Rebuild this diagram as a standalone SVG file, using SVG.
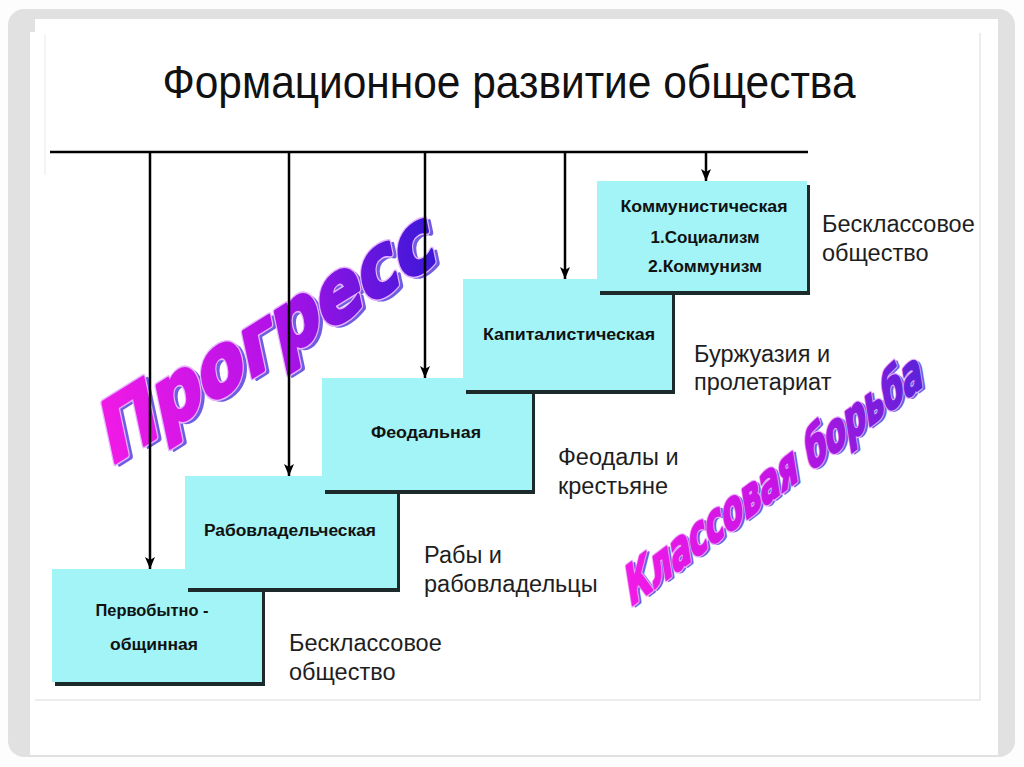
<svg xmlns="http://www.w3.org/2000/svg" width="1024" height="767" viewBox="0 0 1024 767">
<defs>
<style>
.box{fill:#a2f4f6}
.shd{fill:#1c2a2b}
.bt{font-family:"Liberation Sans",Arial,sans-serif;font-weight:bold;font-size:16px;fill:#111;text-anchor:middle}
.lb{font-family:"Liberation Sans",Arial,sans-serif;font-size:23.5px;fill:#1e1e1e}
.ln{stroke:#000;stroke-width:2.5;fill:none}
.wa{font-family:"DejaVu Sans","Liberation Sans",sans-serif;font-weight:bold}
.wc{font-family:"DejaVu Sans Condensed","DejaVu Sans","Liberation Sans",sans-serif;font-weight:bold;font-stretch:condensed}
</style>
<marker id="ah" viewBox="0 0 12 10" refX="12" refY="5" markerWidth="12" markerHeight="10" markerUnits="userSpaceOnUse" orient="auto">
<path d="M0,0 L12,5 L0,10 L3,5 z" fill="#000"/>
</marker>
<linearGradient id="g1" x1="0" y1="0" x2="1" y2="0">
<stop offset="0" stop-color="#f21ae6"/>
<stop offset="0.5" stop-color="#b412e8"/>
<stop offset="1" stop-color="#3a18d8"/>
</linearGradient>
<linearGradient id="g2" x1="0" y1="0" x2="1" y2="0">
<stop offset="0" stop-color="#f21ae6"/>
<stop offset="0.55" stop-color="#c014e4"/>
<stop offset="1" stop-color="#5a22d8"/>
</linearGradient>
</defs>
<rect width="1024" height="767" fill="#fdfdfd"/>
<rect x="8" y="9" width="1007" height="748" rx="16" fill="#e1e1e1"/>
<rect x="30" y="19" width="968" height="736" fill="#ffffff"/>
<rect x="30" y="19" width="5" height="13" fill="#e1e1e1"/>
<path d="M980,33 V700 H35" fill="none" stroke="#e6e6e6" stroke-width="1.5"/>
<path d="M45,35 V175" fill="none" stroke="#f0f0f0" stroke-width="1.5"/>

<g id="title">
<text x="509" y="98" font-family="Liberation Sans, Arial, sans-serif" font-size="46" fill="#111" text-anchor="middle" textLength="693" lengthAdjust="spacingAndGlyphs">Формационное развитие общества</text>
</g>

<g id="progress" transform="translate(110,466) rotate(-12) skewY(-20) scale(1,1.5)">
<text class="wa" x="3.5" y="2.5" font-size="56" fill="#6f5ee2" stroke="#6f5ee2" stroke-width="3" stroke-linejoin="round" textLength="364" lengthAdjust="spacingAndGlyphs">Прогресс</text>
<text class="wa" x="0" y="0" font-size="56" fill="none" stroke="#e8b4ff" stroke-width="4.5" stroke-linejoin="round" textLength="364" lengthAdjust="spacingAndGlyphs">Прогресс</text>
<text class="wa" x="0" y="0" font-size="56" fill="url(#g1)" stroke="url(#g1)" stroke-width="2.5" stroke-linejoin="round" textLength="364" lengthAdjust="spacingAndGlyphs">Прогресс</text>
</g>

<g id="class-struggle" transform="translate(630,607) rotate(-9) skewY(-28) scale(1,1.35)">
<text class="wc" x="2.5" y="2" font-size="40" fill="#6f5ee2" stroke="#6f5ee2" stroke-width="2" stroke-linejoin="round" textLength="325" lengthAdjust="spacingAndGlyphs">Классовая борьба</text>
<text class="wc" x="0" y="0" font-size="40" fill="none" stroke="#e8b4ff" stroke-width="3.5" stroke-linejoin="round" textLength="325" lengthAdjust="spacingAndGlyphs">Классовая борьба</text>
<text class="wc" x="0" y="0" font-size="40" fill="url(#g2)" stroke="url(#g2)" stroke-width="1.8" stroke-linejoin="round" textLength="325" lengthAdjust="spacingAndGlyphs">Классовая борьба</text>
</g>

<g id="connectors">
<path class="ln" d="M50,152 H808" stroke-width="3"/>
<path class="ln" d="M150,152 V569" marker-end="url(#ah)"/>
<path class="ln" d="M289,152 V476" marker-end="url(#ah)"/>
<path class="ln" d="M425,152 V378" marker-end="url(#ah)"/>
<path class="ln" d="M565,152 V279" marker-end="url(#ah)"/>
<path class="ln" d="M706,152 V181" marker-end="url(#ah)"/>
</g>

<g id="primitive">
<rect class="shd" x="55" y="573" width="210" height="113"/>
<rect class="box" x="52" y="569" width="210" height="113"/>
<text class="bt" x="152" y="616" textLength="113" lengthAdjust="spacingAndGlyphs">Первобытно -</text>
<text class="bt" x="154" y="650" textLength="88" lengthAdjust="spacingAndGlyphs">общинная</text>
</g>
<g id="slave">
<rect class="shd" x="188" y="480" width="212" height="112"/>
<rect class="box" x="185" y="476" width="212" height="112"/>
<text class="bt" x="290" y="536" textLength="172" lengthAdjust="spacingAndGlyphs">Рабовладельческая</text>
</g>
<g id="feudal">
<rect class="shd" x="325" y="382" width="210" height="112"/>
<rect class="box" x="322" y="378" width="210" height="112"/>
<text class="bt" x="426" y="438" textLength="110" lengthAdjust="spacingAndGlyphs">Феодальная</text>
</g>
<g id="capitalist">
<rect class="shd" x="466" y="283" width="209" height="111"/>
<rect class="box" x="463" y="279" width="209" height="111"/>
<text class="bt" x="569" y="340" textLength="172" lengthAdjust="spacingAndGlyphs">Капиталистическая</text>
</g>
<g id="communist">
<rect class="shd" x="600" y="185" width="210" height="110"/>
<rect class="box" x="597" y="181" width="210" height="110"/>
<text class="bt" x="704" y="212" textLength="167" lengthAdjust="spacingAndGlyphs">Коммунистическая</text>
<text class="bt" x="705" y="243" textLength="109" lengthAdjust="spacingAndGlyphs">1.Социализм</text>
<text class="bt" x="705" y="272" textLength="114" lengthAdjust="spacingAndGlyphs">2.Коммунизм</text>
</g>

<g id="labels">
<text class="lb" x="289" y="651">Бесклассовое</text>
<text class="lb" x="289" y="680">общество</text>
<text class="lb" x="424" y="563">Рабы и</text>
<text class="lb" x="424" y="592">рабовладельцы</text>
<text class="lb" x="558" y="465">Феодалы и</text>
<text class="lb" x="558" y="494">крестьяне</text>
<text class="lb" x="694" y="362">Буржуазия и</text>
<text class="lb" x="694" y="390">пролетариат</text>
<text class="lb" x="822" y="232">Бесклассовое</text>
<text class="lb" x="822" y="261">общество</text>
</g>
</svg>
